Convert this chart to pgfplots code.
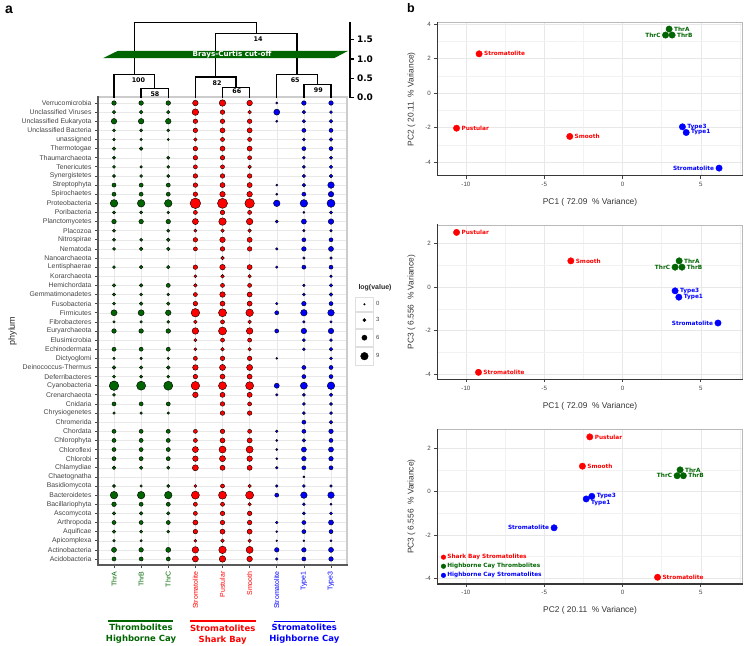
\documentclass[border=0pt]{standalone}
\usepackage{pgfplots}
\pgfplotsset{compat=1.18}
\usepackage{pgfplotstable}
\usepackage{fontspec}
\setmainfont{Liberation Sans}
\newfontfamily\djv{DejaVu Sans}
\definecolor{tgreen}{RGB}{0,100,0}
\definecolor{sred}{RGB}{255,0,0}
\definecolor{hblue}{RGB}{0,0,255}
\definecolor{txtgray}{RGB}{68,68,68}
\definecolor{gridgray}{RGB}{232,232,232}
\definecolor{framegray}{RGB}{55,55,55}
\tikzset{darkframe/.style={framegray, line width=1.3bp, line cap=rect}}

% bubble diameters (encode log(value)); x = sample 1..9, y = phylum row 1 (top) .. 51
\pgfplotstableread{
x y d
1 1 4
2 1 4
3 1 4
1 2 3
2 2 3
3 2 3
1 3 5
2 3 5
3 3 5
1 4 2.5
2 4 2.5
3 4 2.5
1 5 2
2 5 2
3 5 1.5
1 6 3
2 6 3
1 7 2.5
3 7 2.5
1 8 2.5
2 8 2
3 8 2.5
1 9 2.5
2 9 2.5
3 9 2.5
1 10 3.5
2 10 3.5
3 10 3.5
1 11 3.5
2 11 3.5
3 11 3.5
1 12 7
2 12 7
3 12 7
1 13 2.5
2 13 2.5
3 13 2
1 14 4
2 14 4
3 14 4
1 15 2.5
3 15 2.5
1 16 2.5
2 16 2.5
3 16 3
1 17 2.5
2 17 3
3 17 3
1 19 2.5
2 19 3
3 19 3
1 21 3
2 21 3
3 21 3.5
1 22 2.5
2 22 2.5
3 22 2
1 23 2.5
2 23 3
3 23 3
1 24 5.5
2 24 5.5
3 24 5
1 25 2
2 25 2
3 25 2.5
1 26 4
2 26 4
3 26 4
1 28 3.5
2 28 3.5
3 28 3.5
1 29 2
2 29 2
3 29 2
1 30 3
2 30 3
3 30 3
1 31 2.5
2 31 2.5
3 31 2.5
1 32 9
2 32 8.5
3 32 8.5
1 33 2.5
1 34 3.5
2 34 3.5
3 34 3.5
1 35 2
2 35 2
3 35 2
1 37 3.5
2 37 3.5
3 37 3.5
1 38 3.5
2 38 3.5
3 38 3.5
1 39 3.5
2 39 3.5
3 39 3.5
1 40 3.5
2 40 3.5
3 40 3.5
1 41 3
2 41 3
3 41 2.5
1 43 2.5
2 43 2
3 43 2.5
1 44 7
2 44 7
3 44 7
1 45 4
2 45 3.5
3 45 3.5
1 46 3
2 46 3
3 46 3
1 47 3.5
2 47 3.5
3 47 3.5
1 48 3
2 48 2.5
3 48 2.5
1 49 2
2 49 2
1 50 4.5
2 50 4
3 50 4.5
1 51 3.5
2 51 3.5
3 51 3.5
}\greentab

\pgfplotstableread{
x y d
4 1 5
5 1 6
6 1 5
4 2 6
5 2 4
6 2 3
4 3 4
5 3 4
6 3 4
4 4 4
5 4 4.5
6 4 4.5
4 5 3
5 5 3.5
6 5 3.5
4 6 4
5 6 4.5
6 6 4.5
4 7 4
5 7 4
6 7 3.5
4 8 3.5
5 8 3.5
6 8 3
4 9 4
5 9 4
6 9 4
4 10 4
5 10 4.5
6 10 4.5
4 11 4
5 11 5
6 11 5
4 12 10
5 12 9.5
6 12 9
4 13 3.5
5 13 4
6 13 3.5
4 14 5.5
5 14 7
6 14 6
4 15 2.5
5 15 3
6 15 3
4 16 4
5 16 5
6 16 4.5
4 17 3.5
5 17 4
6 17 4
5 18 3
4 19 4
5 19 5
6 19 4.5
4 20 2.5
5 20 3
6 20 3
4 21 3
5 21 3.5
6 21 3.5
4 22 3.5
5 22 5
6 22 4.5
4 23 4
5 23 4.5
6 23 4.5
4 24 8
5 24 7.5
6 24 7
4 25 3
5 25 3.5
6 25 3
4 26 6
5 26 7.5
6 26 6
4 27 2.5
5 27 3.5
6 27 3.5
4 28 2.5
5 28 3
6 28 3
4 29 3.5
5 29 4
6 29 4
4 30 5
5 30 5.5
6 30 5.5
4 31 4
5 31 4.5
6 31 4.5
4 32 8
5 32 7.5
6 32 7.5
4 33 5
5 33 4.5
6 33 4.5
5 34 4
6 34 3.5
5 35 4
6 35 4
4 37 3.5
5 37 4
6 37 3.5
4 38 3.5
5 38 4.5
6 38 4.5
4 39 5.5
5 39 6.5
6 39 6.5
4 40 5
5 40 5.5
6 40 5
4 41 5.5
5 41 4.5
6 41 4.5
4 43 2.5
5 43 3.5
6 43 3
4 44 7.5
5 44 7.5
6 44 7.5
4 45 3.5
5 45 3.5
6 45 3
4 46 3.5
5 46 4
6 46 4
4 47 4.5
5 47 4
6 47 4
4 48 4
5 48 4.5
6 48 4.5
4 49 2.5
5 49 3
6 49 3
4 50 6
5 50 7
6 50 6.5
4 51 5.5
5 51 6
6 51 5
}\redtab

\pgfplotstableread{
x y d
7 1 1.5
8 1 4
9 1 4
7 2 5.5
8 2 3
9 2 2.5
7 3 1.5
8 3 3
9 3 3
8 4 3.5
9 4 3.5
8 5 2.5
9 5 3
8 6 3.5
9 6 3.5
8 7 2.5
9 7 2.5
8 8 2.5
9 8 3
8 9 3
9 9 3
7 10 1.5
8 10 3
9 10 6
7 11 1.5
8 11 3.5
9 11 5
7 12 6
8 12 7
9 12 7.5
8 13 1.5
9 13 2.5
7 14 2.5
8 14 4.5
9 14 5
8 15 2
9 15 2
8 16 3.5
9 16 3.5
7 17 2
8 17 4
9 17 4.5
8 18 2
9 18 2
7 19 2
8 19 3.5
9 19 3.5
9 20 2
8 21 2
9 21 3
8 22 2.5
9 22 3
7 23 2
8 23 4
9 23 3.5
7 24 3.5
8 24 6
9 24 6
8 25 2
9 25 2
7 26 3.5
8 26 5
9 26 5
8 27 2.5
9 27 2.5
8 28 2.5
9 28 3
7 29 1.2
9 29 2.5
8 30 3.5
9 30 3.5
8 31 3.5
9 31 3.5
7 32 4.5
8 32 6.5
9 32 7
7 33 2
8 33 2.5
9 33 3
8 34 2.5
9 34 2.5
8 35 2.5
9 35 2.5
8 36 3.5
9 36 3
7 37 2
8 37 3.5
9 37 4
7 38 1.5
8 38 3
9 38 3.5
7 39 1.5
8 39 4.5
9 39 4.5
7 40 1.5
8 40 4
9 40 4
7 41 2
8 41 3.5
9 41 3.5
8 42 1.5
7 43 2
8 43 2.5
9 43 2
7 44 3.5
8 44 6
9 44 6
8 45 2.5
9 45 1.5
8 46 2.5
9 46 2.5
7 47 2
8 47 3.5
9 47 4.5
7 48 1.5
8 48 3.5
9 48 3.5
7 49 1.2
8 49 1.5
9 49 1.5
7 50 4
8 50 4
9 50 4.5
7 51 2
8 51 3.5
9 51 4
}\bluetab

% PCA scores. rows 0-2 Shark Bay stromatolites; 3-5 HC thrombolites (ThrA, ThrB, ThrC);
% 6-8 HC stromatolites (Type3, Type1, Stromatolite)
\pgfplotstableread{
x y lab
-9.16 2.28 Stromatolite
-10.6 -2.04 Pustular
-3.37 -2.52 Smooth
2.98 3.72 ThrA
3.17 3.37 ThrB
2.75 3.37 ThrC
3.83 -1.96 Type3
4.07 -2.29 Type1
6.17 -4.36 Stromatolite
}\pcaA
\pgfplotstableread{
x y lab
-10.6 2.52 Pustular
-3.3 1.21 Smooth
-9.2 -3.92 Stromatolite
3.62 1.21 ThrA
3.8 0.92 ThrB
3.36 0.92 ThrC
3.36 -0.17 Type3
3.6 -0.46 Type1
6.1 -1.65 Stromatolite
}\pcaB
\pgfplotstableread{
x y lab
-2.09 2.52 Pustular
-2.56 1.17 Smooth
2.24 -3.95 Stromatolite
3.68 1.0 ThrA
3.89 0.73 ThrB
3.49 0.73 ThrC
-1.96 -0.22 Type3
-2.32 -0.34 Type1
-4.37 -1.67 Stromatolite
}\pcaC

\pgfplotsset{
  bub/.style={scatter, only marks, mark=*, forget plot,
    scatter/use mapped color={draw=none, fill=#1},
    visualization depends on={\thisrow{d} \as \bubd},
    scatter/@pre marker code/.append style={/tikz/mark size=\bubd/2+0.3}},
  pcapt/.style n args={3}{only marks, mark=*, mark size=3.2bp, color=#1,
    restrict expr to domain={\coordindex}{#2},
    nodes near coords, point meta=explicit symbolic,
    every node near coord/.append style={anchor=#3, inner xsep=4.8bp, inner ysep=1bp,
      text=#1, font=\djv\bfseries\fontsize{5.8}{6}\selectfont}},
  pca/.style={scale only axis, width=305.4bp, xmin=-11.83, xmax=7.68,
    xtick={-10,-5,0,5}, xticklabels={-10,-5,0,5},
    minor xtick={-7.5,-2.5,2.5,7.5},
    grid=both, major grid style={gridgray, line width=0.5bp},
    minor grid style={gridgray!55, line width=0.4bp},
    tick align=outside, xtick pos=bottom, ytick pos=left,
    major tick length=3bp, minor tick length=0pt,
    tick style={txtgray, line width=0.6bp},
    ticklabel style={font=\fontsize{6.2}{7}\selectfont, text=txtgray},
    axis line style={gray!55, line width=0.9bp},
    every axis x label/.style={at={(axis description cs:0.5,-0.173)}, anchor=center,
      font=\fontsize{8.4}{9}\selectfont, text=black!80},
    every axis y label/.style={at={(axis description cs:-0.085,0.5)}, rotate=90, anchor=center,
      font=\fontsize{8.4}{9}\selectfont, text=black!80},
    clip=false}
}

\begin{document}
\begin{tikzpicture}[x=1bp,y=1bp]
\path[use as bounding box] (0,0) rectangle (747,646);

% ---------------- panel a: bubble chart ----------------
\begin{axis}[at={(98bp,81bp)}, anchor=south west, scale only axis,
  width=249bp, height=468bp,
  xmin=0.41, xmax=9.59, ymin=0.34, ymax=51.66, y dir=reverse,
  xtick={1,...,9}, ytick={1,...,51},
  xticklabels={\textcolor{tgreen}{ThrA},\textcolor{tgreen}{ThrB},\textcolor{tgreen}{ThrC},
    \textcolor{sred}{Stromatolite},\textcolor{sred}{Pustular},\textcolor{sred}{Smooth},
    \textcolor{hblue}{Stromatolite},\textcolor{hblue}{Type1},\textcolor{hblue}{Type3}},
  yticklabels={Verrucomicrobia, Unclassified Viruses, Unclassified Eukaryota, Unclassified Bacteria,
    unassigned, Thermotogae, Thaumarchaeota, Tenericutes, Synergistetes, Streptophyta, Spirochaetes,
    Proteobacteria, Poribacteria, Planctomycetes, Placozoa, Nitrospirae, Nematoda, Nanoarchaeota,
    Lentisphaerae, Korarchaeota, Hemichordata, Gemmatimonadetes, Fusobacteria, Firmicutes,
    Fibrobacteres, Euryarchaeota, Elusimicrobia, Echinodermata, Dictyoglomi, Deinococcus-Thermus,
    Deferribacteres, Cyanobacteria, Crenarchaeota, Cnidaria, Chrysiogenetes, Chromerida, Chordata,
    Chlorophyta, Chloroflexi, Chlorobi, Chlamydiae, Chaetognatha, Basidiomycota, Bacteroidetes,
    Bacillariophyta, Ascomycota, Arthropoda, Aquificae, Apicomplexa, Actinobacteria, Acidobacteria},
  xticklabel style={rotate=90, anchor=east, font=\fontsize{7}{8}\selectfont},
  yticklabel style={font=\fontsize{6.9}{8}\selectfont, text=txtgray},
  tick align=outside, xtick pos=bottom, ytick pos=left,
  major tick length=3bp, tick style={txtgray, line width=0.7bp},
  grid=major, major grid style={gridgray, line width=0.4bp},
  axis line style={gray!40, line width=1.2bp},
  clip=false,
  legend cell align=left,
  legend style={at={(axis description cs:1.032,0.573)}, anchor=north west,
    draw=none, fill=none, inner sep=0pt, row sep=0pt, column sep=2.5bp,
    nodes={inner sep=0pt}, font=\fontsize{6}{7}\selectfont, text=txtgray},
]
\addplot[bub=tgreen] table[x=x, y=y] {\greentab};
\addplot[bub=sred] table[x=x, y=y] {\redtab};
\addplot[bub=hblue] table[x=x, y=y] {\bluetab};
\draw[black!65, line width=1.4bp, line cap=rect] (axis description cs:0,1) -- (axis description cs:0,0) -- (axis description cs:1,0);
\addlegendimage{legend image code/.code={\draw[gray!25, fill=white, line width=0.5bp] (-9bp,-7bp) rectangle (9bp,7bp); \fill[black] (0bp,0bp) circle (0.8bp);}}
\addlegendentry{0}
\addlegendimage{legend image code/.code={\draw[gray!25, fill=white, line width=0.5bp] (-9bp,-8.3bp) rectangle (9bp,8.3bp); \fill[black] (0bp,0bp) circle (1.6bp);}}
\addlegendentry{3}
\addlegendimage{legend image code/.code={\draw[gray!25, fill=white, line width=0.5bp] (-9bp,-8.8bp) rectangle (9bp,8.8bp); \fill[black] (0bp,0bp) circle (2.6bp);}}
\addlegendentry{6}
\addlegendimage{legend image code/.code={\draw[gray!25, fill=white, line width=0.5bp] (-9bp,-9.2bp) rectangle (9bp,9.2bp); \fill[black] (0bp,0bp) circle (3.8bp);}}
\addlegendentry{9}
\end{axis}

% ---------------- dendrogram ----------------
\begin{axis}[at={(98bp,548.3bp)}, anchor=south west, scale only axis,
  width=252bp, height=76bp, xmin=0.41, xmax=9.70, ymin=0, ymax=1.96,
  axis x line=none, axis y line*=right,
  ytick={0,0.5,1,1.5}, yticklabels={0.0,0.5,1.0,1.5},
  yticklabel style={font=\djv\bfseries\fontsize{9}{10}\selectfont, text=black},
  tick align=outside, major tick length=3.5bp,
  axis line style={black, line width=1.3bp}, tick style={black, line width=1.3bp},
  clip=false]
\addplot[black, line width=1.3bp] coordinates {(2,0)(2,0.23)(3,0.23)(3,0)};
\addplot[black, line width=1.3bp] coordinates {(1,0)(1,0.59)(2.5,0.59)(2.5,0.23)};
\addplot[black, line width=1.3bp] coordinates {(5,0)(5,0.27)(6,0.27)(6,0)};
\addplot[black, line width=1.3bp] coordinates {(4,0)(4,0.53)(5.5,0.53)(5.5,0.27)};
\addplot[black, line width=1.3bp] coordinates {(8,0)(8,0.34)(9,0.34)(9,0)};
\addplot[black, line width=1.3bp] coordinates {(7,0)(7,0.59)(8.5,0.59)(8.5,0.34)};
\addplot[black, line width=1.3bp] coordinates {(4.75,0.53)(4.75,1.66)(7.75,1.66)(7.75,0.59)};
\addplot[black, line width=1.3bp] coordinates {(1.75,0.59)(1.75,1.94)(6.25,1.94)(6.25,1.66)};
\addplot[fill=tgreen, draw=none] coordinates {(0.594,1.02)(9.118,1.02)(9.635,1.21)(1.148,1.21)} -- cycle;
\node[text=white, font=\djv\bfseries\fontsize{7.2}{8}\selectfont] at (axis cs:5.35,1.115) {Brays-Curtis cut-off};
\begin{scope}[every node/.style={font=\djv\bfseries\fontsize{6.4}{7}\selectfont, inner sep=0pt}]
\node at (axis cs:1.9,0.456) {100};
\node at (axis cs:2.51,0.10) {58};
\node at (axis cs:4.8,0.37) {82};
\node at (axis cs:5.53,0.165) {66};
\node at (axis cs:6.31,1.5) {14};
\node at (axis cs:7.68,0.456) {65};
\node at (axis cs:8.53,0.2) {99};
\end{scope}
\end{axis}

% ---------------- panel b: PCA ----------------
\begin{axis}[pca, at={(437.3bp,470.3bp)}, anchor=south west, height=153bp,
  ymin=-4.8, ymax=4.09, ytick={-4,-2,0,2,4}, yticklabels={-4,-2,0,2,4}, minor ytick={-3,-1,1,3},
  xlabel={PC1 ( 72.09\ \ \% Variance)}, ylabel={PC2 ( 20.11\ \ \% Variance)}]
\draw[darkframe] (axis description cs:0,1) -- (axis description cs:0,0) -- (axis description cs:1,0);
\addplot[pcapt={sred}{0:2}{west}] table[x=x, y=y, meta=lab] {\pcaA};
\addplot[pcapt={tgreen}{3:4}{west}] table[x=x, y=y, meta=lab] {\pcaA};
\addplot[pcapt={tgreen}{5:5}{east}] table[x=x, y=y, meta=lab] {\pcaA};
\addplot[pcapt={hblue}{6:7}{west}] table[x=x, y=y, meta=lab] {\pcaA};
\addplot[pcapt={hblue}{8:8}{east}] table[x=x, y=y, meta=lab] {\pcaA};
\end{axis}

\begin{axis}[pca, at={(437.3bp,266.7bp)}, anchor=south west, height=154.3bp,
  ymin=-4.24, ymax=2.86, ytick={-4,-2,0,2}, yticklabels={-4,-2,0,2}, minor ytick={-3,-1,1},
  xlabel={PC1 ( 72.09\ \ \% Variance)}, ylabel={PC3 ( 6.556\ \ \% Variance)}]
\draw[darkframe] (axis description cs:0,1) -- (axis description cs:0,0) -- (axis description cs:1,0);
\addplot[pcapt={sred}{0:2}{west}] table[x=x, y=y, meta=lab] {\pcaB};
\addplot[pcapt={tgreen}{3:4}{west}] table[x=x, y=y, meta=lab] {\pcaB};
\addplot[pcapt={tgreen}{5:5}{east}] table[x=x, y=y, meta=lab] {\pcaB};
\addplot[pcapt={hblue}{6:7}{west}] table[x=x, y=y, meta=lab] {\pcaB};
\addplot[pcapt={hblue}{8:8}{east}] table[x=x, y=y, meta=lab] {\pcaB};
\end{axis}

\begin{axis}[pca, at={(437.3bp,62bp)}, anchor=south west, height=154.7bp,
  ymin=-4.26, ymax=2.87, ytick={-4,-2,0,2}, yticklabels={-4,-2,0,2}, minor ytick={-3,-1,1},
  xlabel={PC2 ( 20.11\ \ \% Variance)}, ylabel={PC3 ( 6.556\ \ \% Variance)},
  legend cell align=left,
  legend image code/.code={\draw[#1, mark size=2.3bp] plot coordinates {(0bp,0bp)};},
  legend style={at={(axis description cs:0.012,0.204)}, anchor=north west,
    draw=none, fill=none, inner sep=0pt, row sep=0pt,
    nodes={inner sep=1.6bp}, font=\djv\bfseries\fontsize{5.8}{6.5}\selectfont}]
\draw[darkframe] (axis description cs:0,1) -- (axis description cs:0,0) -- (axis description cs:1,0);
\addplot[pcapt={sred}{0:2}{west}] table[x=x, y=y, meta=lab] {\pcaC};
\addlegendentry{\textcolor{sred}{Shark Bay Stromatolites}}
\addplot[pcapt={tgreen}{3:4}{west}] table[x=x, y=y, meta=lab] {\pcaC};
\addlegendentry{\textcolor{tgreen}{Highborne Cay Thrombolites}}
\addplot[pcapt={hblue}{6:6}{west}] table[x=x, y=y, meta=lab] {\pcaC};
\addlegendentry{\textcolor{hblue}{Highborne Cay Stromatolites}}
\addplot[pcapt={tgreen}{5:5}{east}, forget plot] table[x=x, y=y, meta=lab] {\pcaC};
\addplot[pcapt={hblue}{7:7}{north west}, forget plot] table[x=x, y=y, meta=lab] {\pcaC};
\addplot[pcapt={hblue}{8:8}{east}, forget plot] table[x=x, y=y, meta=lab] {\pcaC};
\end{axis}

% ---------------- annotations ----------------
\node[font=\bfseries\fontsize{14}{15}\selectfont] at (9,636) {a};
\node[font=\bfseries\fontsize{12.5}{14}\selectfont] at (411,638) {b};
\node[rotate=90, font=\fontsize{9}{10}\selectfont, text=black!85] at (12.5,315) {phylum};
\node[anchor=west, font=\bfseries\fontsize{7}{8}\selectfont, text=black!85] at (355,358) {log(value)};
\draw[tgreen, line width=1.3bp] (108,25) -- (173,25);
\draw[sred, line width=1.3bp] (190,25) -- (256,25);
\draw[hblue, line width=1.3bp] (274,24.5) -- (335,24.5);
\node[align=center, text=tgreen, font=\djv\bfseries\fontsize{8.5}{11}\selectfont] at (141,12.5) {Thrombolites\\Highborne Cay};
\node[align=center, text=sred, font=\djv\bfseries\fontsize{8.5}{11}\selectfont] at (222.7,11.7) {Stromatolites\\Shark Bay};
\node[align=center, text=hblue, font=\djv\bfseries\fontsize{8.5}{11}\selectfont] at (304.3,12.5) {Stromatolites\\Highborne Cay};
\end{tikzpicture}
\end{document}
